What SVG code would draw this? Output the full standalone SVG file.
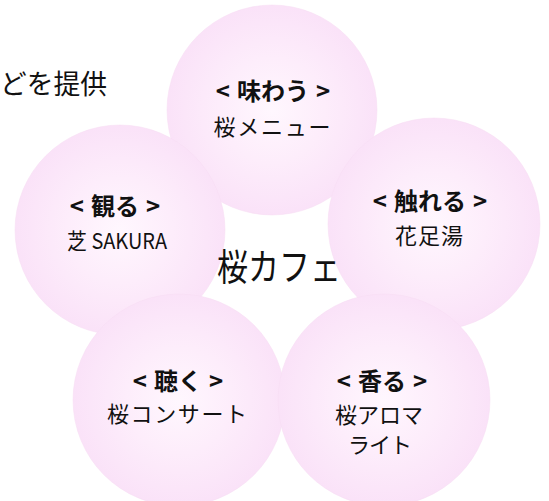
<svg xmlns="http://www.w3.org/2000/svg" width="549" height="501" viewBox="0 0 549 501">
<defs>
<radialGradient id="pink" cx="50%" cy="50%" r="50%">
<stop offset="0" stop-color="#fff7fe"/>
<stop offset="0.5" stop-color="#fdedfb"/>
<stop offset="1" stop-color="#fae2f8"/>
</radialGradient>
</defs>
<style>
.c{fill:url(#pink);stroke:#f6dcf3;stroke-width:0.5}
text{font-family:"Noto Sans CJK JP","Noto Sans",sans-serif;fill:#111;text-anchor:middle}
.h{font-weight:bold;font-size:24px}
.s{font-size:22px}
</style>
<rect width="549" height="501" fill="#ffffff"/>
<text x="107" y="94" style="text-anchor:end;font-size:27px" textLength="107" lengthAdjust="spacingAndGlyphs">どを提供</text>
<g id="taste"><circle class="c" cx="272" cy="110" r="105"/>
<text class="h" x="273" y="100">&lt;<tspan dx="7">味わう</tspan><tspan dx="7">&gt;</tspan></text>
<text class="s" x="272" y="135" textLength="117" lengthAdjust="spacing">桜メニュー</text></g>
<g id="see"><circle class="c" cx="120" cy="230" r="105"/>
<text class="h" x="115" y="215">&lt;<tspan dx="7">観る</tspan><tspan dx="7">&gt;</tspan></text>
<text class="s" x="117" y="249" textLength="100" lengthAdjust="spacingAndGlyphs">芝 SAKURA</text></g>
<g id="touch"><circle class="c" cx="434" cy="224" r="106"/>
<text class="h" x="430" y="210">&lt;<tspan dx="7">触れる</tspan><tspan dx="7">&gt;</tspan></text>
<text class="s" x="429" y="244" textLength="68" lengthAdjust="spacing">花足湯</text></g>
<g id="listen"><circle class="c" cx="179" cy="400" r="106"/>
<text class="h" x="178" y="390">&lt;<tspan dx="7">聴く</tspan><tspan dx="7">&gt;</tspan></text>
<text class="s" x="177" y="422" textLength="140" lengthAdjust="spacing">桜コンサート</text></g>
<g id="smell"><circle class="c" cx="384" cy="400" r="106"/>
<text class="h" x="382" y="390">&lt;<tspan dx="7">香る</tspan><tspan dx="7">&gt;</tspan></text>
<text class="s" x="379" y="423" textLength="88" lengthAdjust="spacing">桜アロマ</text>
<text class="s" x="380" y="453" textLength="64" lengthAdjust="spacing">ライト</text></g>
<g id="center"><text x="279" y="281" style="font-size:37px" textLength="124" lengthAdjust="spacingAndGlyphs">桜カフェ</text></g>
<g id="connectors"></g>
</svg>
